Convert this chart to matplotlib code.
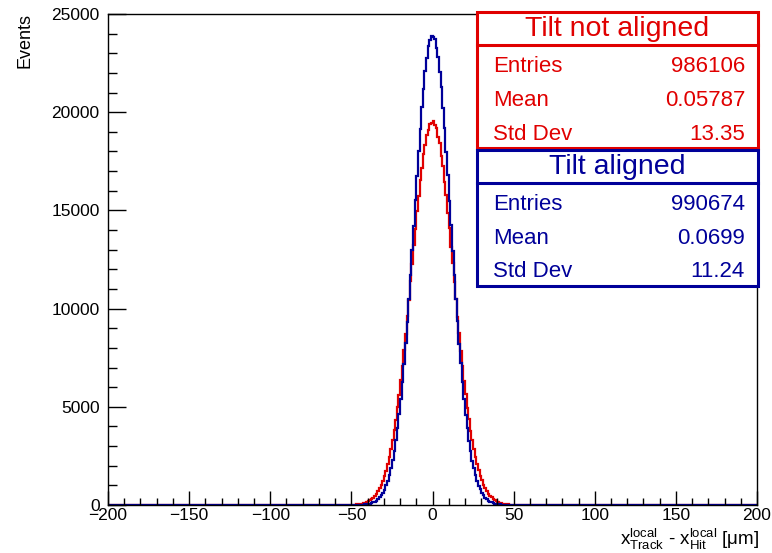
#importando librerias
import numpy as np
import matplotlib
matplotlib.use('Agg')
import matplotlib.pyplot as plt
from matplotlib.patches import Rectangle

plt.rcParams['font.family'] = ['Liberation Sans', 'DejaVu Sans']
plt.rcParams['mathtext.fontset'] = 'custom'
plt.rcParams['mathtext.rm'] = 'Liberation Sans'
plt.rcParams['mathtext.it'] = 'Liberation Sans'

x_lo = -48
x_hi = 48
red_counts = [25, 30, 45, 58, 70, 95, 121, 150, 196, 240, 308, 374, 472, 571, 710, 850,
              1042, 1236, 1493, 1755, 2090, 2430, 2860, 3290, 3820, 4345, 4980, 5605,
              6350, 7060, 7900, 8690, 9610, 10440, 11410, 12250, 13220, 14040, 14970,
              15710, 16550, 17170, 17870, 18320, 18850, 19090, 19420, 19440,
              19530, 19330, 19190, 18760, 18410, 17790, 17250, 16470, 15790, 14890,
              14110, 13150, 12320, 11340, 10500, 9550, 8740, 7860, 7100, 6310, 5640,
              4950, 4375, 3790, 3315, 2835, 2455, 2070, 1772, 1478, 1250, 1028, 862,
              698, 580, 463, 382, 300, 246, 190, 154, 117, 94, 71, 57, 42, 33, 23]
blue_counts = [3, 5, 7, 10, 14, 21, 27, 40, 52, 73, 97, 133, 170, 228, 291, 385, 486,
               630, 785, 998, 1230, 1535, 1865, 2290, 2740, 3305, 3900, 4625, 5375,
               6270, 7190, 8245, 9310, 10510, 11690, 12980, 14220, 15540, 16760, 18030,
               19150, 20280, 21200, 22100, 22750, 23350, 23660, 23900,
               23850, 23720, 23290, 22810, 22050, 21260, 20230, 19200, 17990, 16810,
               15500, 14260, 12940, 11730, 10470, 9345, 8210, 7220, 6240, 5405, 4595,
               3925, 3280, 2760, 2265, 1880, 1520, 1242, 986, 795, 620, 494, 377, 297,
               222, 174, 129, 99, 71, 54, 38, 28, 20, 14, 9, 7, 4, 3]

red_title = 'Tilt not aligned'
blue_title = 'Tilt aligned'
stat_names = ['Entries', 'Mean', 'Std Dev']
red_stats = ['986106', '0.05787', '13.35']
blue_stats = ['990674', '0.0699', '11.24']

red = '#e00000'
blue = '#000099'

# histograma completo de -200 a 200
edges = np.arange(-200, 201, 1)
def full(c):
    h = np.zeros(len(edges) - 1)
    i0 = x_lo - (-200)
    h[i0:i0 + len(c)] = c
    return h

W, H = 772, 553
fig = plt.figure(figsize=(W / 100, H / 100), dpi=100)
ax = fig.add_axes([108 / W, 1 - 505 / H, (757 - 108) / W, (505 - 14) / H])

ax.stairs(full(red_counts), edges, color=red, lw=1.6)
ax.stairs(full(blue_counts), edges, color=blue, lw=1.6)

ax.set_xlim(-200, 200)
ax.set_ylim(0, 25000)
ax.set_xticks(np.arange(-200, 201, 50))
ax.set_xticks(np.arange(-200, 201, 10), minor=True)
ax.set_yticks(np.arange(0, 25001, 5000))
ax.set_yticks(np.arange(0, 25001, 1000), minor=True)
ax.tick_params(axis='both', which='both', direction='in', labelsize=12.5, width=1)
ax.tick_params(axis='x', which='major', length=10, pad=2.5)
ax.tick_params(axis='x', which='minor', length=5)
ax.tick_params(axis='y', which='major', length=13, pad=6)
ax.tick_params(axis='y', which='minor', length=6.5)
for s in ax.spines.values():
    s.set_linewidth(1)

fig.text(25 / W, 1 - 13 / H, 'Events', rotation=90, ha='center', va='top', fontsize=13)
fig.text(759 / W, 1 - 552 / H,
         r'$\mathregular{x^{local}_{Track}}$ - $\mathregular{x^{local}_{Hit}}$ [$\mathregular{\mu}$m]',
         ha='right', va='bottom', fontsize=13.5)

# cajas de estadisticas
def stat_box(top, title, vals, col):
    box_l, box_r = 477, 758
    y_sep = top + 33
    y_bot = top + 136
    fig.add_artist(Rectangle((box_l / W, 1 - y_bot / H), (box_r - box_l) / W, (y_bot - top) / H,
                             transform=fig.transFigure, facecolor='white', edgecolor=col, lw=2.2))
    fig.add_artist(plt.Line2D([box_l / W, box_r / W], [1 - y_sep / H, 1 - y_sep / H],
                              transform=fig.transFigure, color=col, lw=2.2))
    fig.text((box_l + box_r) / 2 / W, 1 - (top + 17) / H, title, ha='center', va='center',
             fontsize=20.5, color=col)
    for k in range(3):
        yy = 1 - (top + 54 + 34 * k) / H
        fig.text(493 / W, yy, stat_names[k], ha='left', va='center', fontsize=16, color=col)
        fig.text(745 / W, yy, vals[k], ha='right', va='center', fontsize=16, color=col)

stat_box(12, red_title, red_stats, red)
stat_box(150, blue_title, blue_stats, blue)

fig.savefig('out.png', dpi=100)
